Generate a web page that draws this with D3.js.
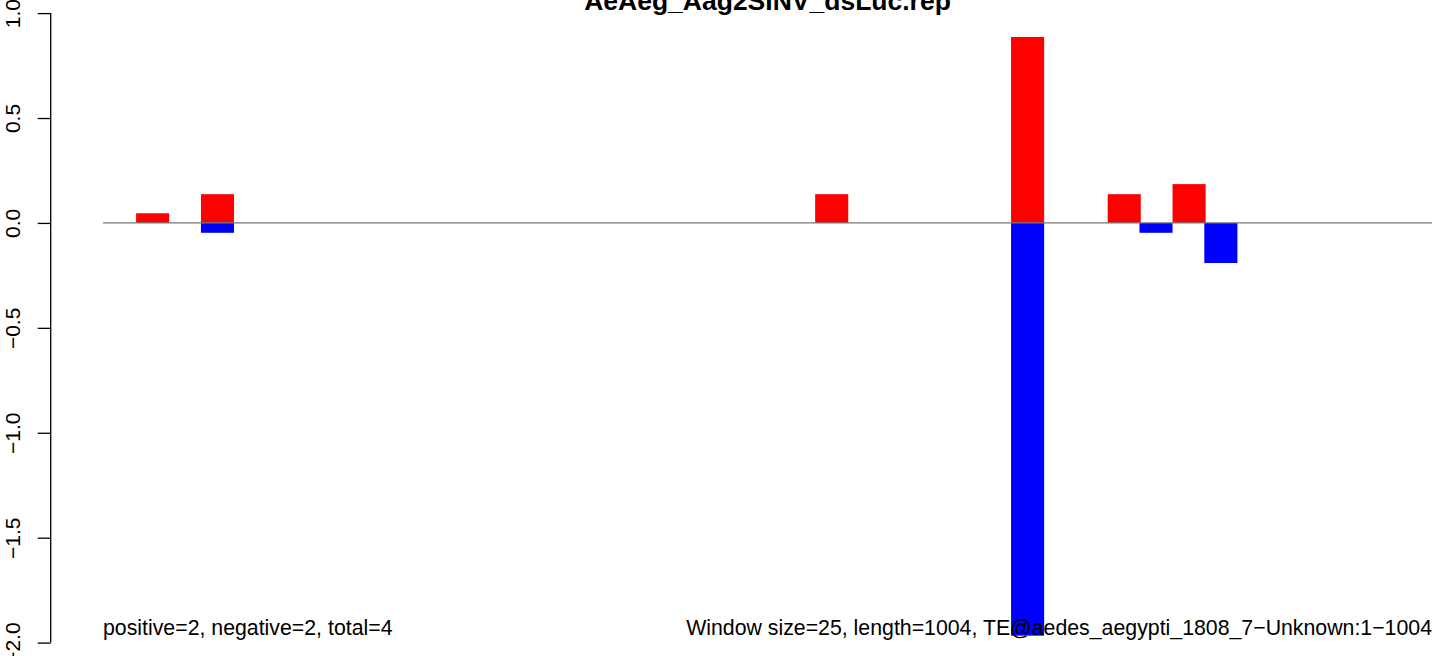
<!DOCTYPE html>
<html><head><meta charset="utf-8">
<script src="https://cdn.jsdelivr.net/npm/d3@7"></script>
<style>body{margin:0;background:#fff}svg{display:block}text{font-family:"Liberation Sans",Arial,Helvetica,sans-serif}</style>
</head><body>
<svg id="c" width="1444" height="656"></svg>
<script>
const title = "AeAeg_Aag2SINV_dsLuc.rep";
const seqLength = 1004;
const windowSize = 25;
const posStarts = [25, 74, 538, 686, 759, 808];
const posValues = [0.046, 0.137, 0.137, 0.886, 0.137, 0.185];
const negStarts = [74, 686, 783, 832];
const negValues = [-0.047, -1.967, -0.047, -0.191];
const yTicks = [-2, -1.5, -1, -0.5, 0, 0.5, 1];
const leftNote = "positive=2, negative=2, total=4";
const rightNote = "Window size=25, length=1004, TE@aedes_aegypti_1808_7\u2212Unknown:1\u22121004";

const svg = d3.select("#c");
const x = d3.scaleLinear().domain([0, seqLength]).range([103, 1432]);
const y = d3.scaleLinear().domain([-2, 1]).range([642.6, 13.1]);

function bars(starts, vals, color) {
  svg.append("g").selectAll("rect").data(starts.map((s, i) => ({s, v: vals[i]}))).join("rect")
    .attr("x", d => x(d.s))
    .attr("width", d => x(d.s + windowSize) - x(d.s))
    .attr("y", d => Math.min(y(d.v), y(0)))
    .attr("height", d => Math.abs(y(d.v) - y(0)))
    .attr("fill", color);
}
bars(posStarts, posValues, "#ff0000");
bars(negStarts, negValues, "#0000ff");

svg.append("line").attr("x1", x(0)).attr("x2", x(seqLength)).attr("y1", y(0)).attr("y2", y(0))
  .attr("stroke", "#777").attr("stroke-width", 1.2);

const axis = d3.axisLeft(y).tickValues(yTicks).tickSize(13).tickPadding(0)
  .tickFormat(d => d3.format(".1f")(d).replace("-", "\u2212"));
const ag = svg.append("g").attr("transform", "translate(50.7,0)").call(axis);
ag.select(".domain").attr("stroke", "#000").attr("stroke-width", 1.3).attr("d", `M0,${y(-2)}V${y(1)}`);
ag.selectAll(".tick line").attr("stroke", "#000").attr("stroke-width", 1.3);
ag.selectAll(".tick text").attr("x", null).attr("dy", null)
  .attr("transform", "translate(-30.5,0) rotate(-90)")
  .attr("text-anchor", "middle").attr("fill", "#000")
  .style("font-size", "21px");

svg.append("text").attr("x", (x(0) + x(seqLength)) / 2).attr("y", 10)
  .attr("text-anchor", "middle").attr("font-weight", "bold").style("font-size", "26.5px").text(title);

svg.append("text").attr("x", x(0)).attr("y", 635).style("font-size", "21.3px").text(leftNote);
svg.append("text").attr("x", x(seqLength)).attr("y", 635).attr("text-anchor", "end").style("font-size", "21.3px").text(rightNote);
</script>
</body></html>
